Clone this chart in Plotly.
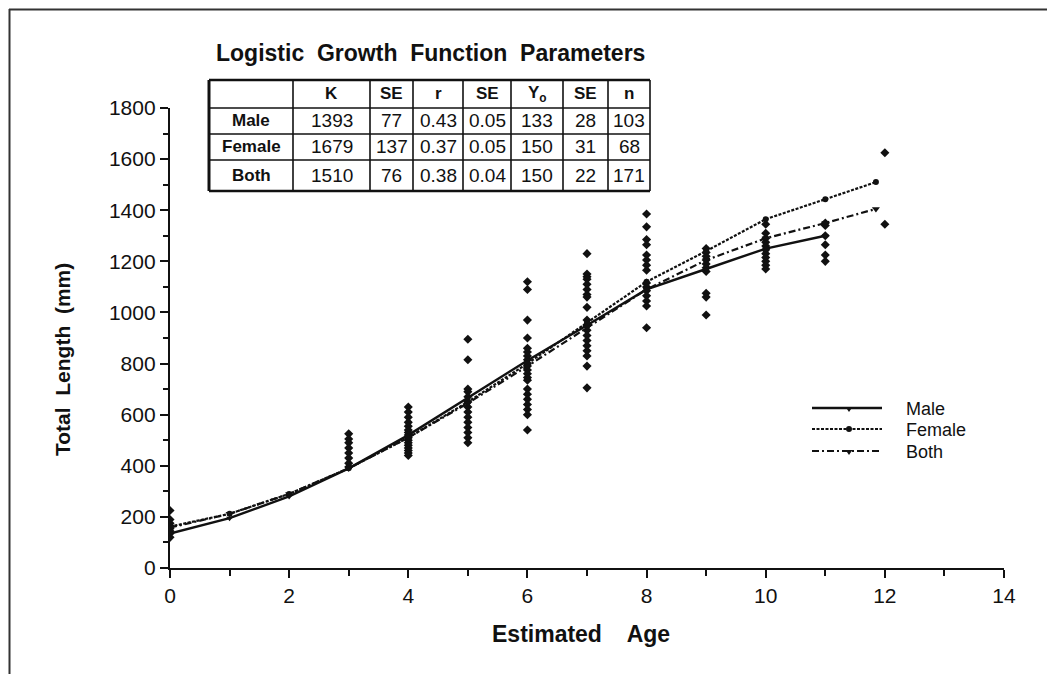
import plotly.graph_objects as go

# ---------------- data ----------------
male_age = [0, 1, 2, 3, 4, 5, 6, 7, 8, 9, 10, 11]
male_len = [135, 195, 280, 390, 520, 665, 812, 950, 1090, 1170, 1250, 1300]

female_age = [0, 1, 2, 3, 4, 5, 6, 7, 8, 9, 10, 11, 11.85]
female_len = [162, 212, 290, 390, 510, 650, 800, 960, 1120, 1240, 1365, 1443, 1510]

both_age = [0, 1, 2, 3, 4, 5, 6, 7, 8, 9, 10, 11, 11.85]
both_len = [158, 212, 290, 390, 510, 645, 790, 940, 1090, 1205, 1290, 1350, 1405]

obs = {
    0: [225, 190, 175, 165, 155, 145, 135, 120],
    3: [525, 505, 490, 470, 450, 430, 410, 395],
    4: [630, 610, 590, 570, 555, 540, 530, 520, 510, 500, 490, 480, 470, 460, 450, 440],
    5: [895, 815, 700, 690, 670, 650, 630, 610, 590, 570, 550, 530, 510, 490],
    6: [1120, 1090, 970, 900, 860, 845, 830, 815, 800, 790, 775, 760, 745, 735,
        700, 680, 660, 640, 620, 600, 540],
    7: [1230, 1150, 1140, 1130, 1110, 1090, 1070, 1060, 1020, 970, 950, 930, 910,
        890, 870, 850, 830, 790, 705],
    8: [1385, 1335, 1285, 1265, 1225, 1205, 1185, 1165, 1115, 1100, 1085, 1065,
        1045, 1025, 940],
    9: [1250, 1235, 1220, 1205, 1190, 1175, 1160, 1075, 1060, 990],
    10: [1345, 1310, 1290, 1275, 1260, 1245, 1230, 1215, 1200, 1185, 1170],
    11: [1350, 1340, 1300, 1265, 1225, 1200],
    12: [1625, 1345],
}

series_names = ["Male", "Female", "Both"]

table_title = "Logistic  Growth  Function  Parameters"
col_headers = ["", "K", "SE", "r", "SE", "Y<sub>o</sub>", "SE", "n"]
row_labels = ["Male", "Female", "Both"]
K = ["1393", "1679", "1510"]
SE_K = ["77", "137", "76"]
r = ["0.43", "0.37", "0.38"]
SE_r = ["0.05", "0.05", "0.04"]
Y0 = ["133", "150", "150"]
SE_Y0 = ["28", "31", "22"]
n = ["103", "68", "171"]

x_ticks = [0, 2, 4, 6, 8, 10, 12, 14]
y_ticks = [0, 200, 400, 600, 800, 1000, 1200, 1400, 1600, 1800]

# ---------------- layout geometry (reference pixel coords) ----------------
W, H = 1055, 674
OFF = 8  # page body margin
L, R, T, B = 170, 1004, 108, 568
FONT = "Liberation Sans, Arial, Helvetica, sans-serif"
INK = "#111"


def px(p):
    return (p - L) / (R - L)


def py(p):
    return (B - p) / (B - T)


styles = {
    "Male": dict(line=dict(color=INK, width=2.4, dash="solid"),
                 marker=dict(symbol="triangle-down", size=6, color=INK)),
    "Female": dict(line=dict(color=INK, width=2.2, dash="3px,1.5px"),
                   marker=dict(symbol="circle", size=6, color=INK)),
    "Both": dict(line=dict(color=INK, width=2.2, dash="7px,3px,2px,3px"),
                 marker=dict(symbol="triangle-down", size=7, color=INK)),
}

fig = go.Figure()

sx, sy = [], []
for a, vals in obs.items():
    for v in vals:
        sx.append(a)
        sy.append(v)
fig.add_trace(go.Scatter(x=sx, y=sy, mode="markers", showlegend=False,
                         marker=dict(symbol="diamond", size=7, color=INK)))

for name, ax, ay in zip(series_names, [male_age, female_age, both_age],
                        [male_len, female_len, both_len]):
    fig.add_trace(go.Scatter(x=ax, y=ay, name=name, mode="lines+markers",
                             showlegend=False, **styles[name]))

shapes = []
annotations = []

# outer frame (left and top)
shapes.append(dict(type="line", xref="paper", yref="paper", x0=px(9), x1=px(1070),
                   y0=py(9.5), y1=py(9.5), line=dict(color="#333", width=2)))
shapes.append(dict(type="line", xref="paper", yref="paper", x0=px(9.5), x1=px(9.5),
                   y0=py(9), y1=py(690), line=dict(color="#333", width=2)))

# table
col_x = [209, 293, 370, 413, 463, 511, 563, 608, 650]
row_y = [80, 108, 134, 160, 191]
for i, xv in enumerate(col_x):
    w = 3 if i == 0 else 1.6
    shapes.append(dict(type="line", xref="paper", yref="paper", x0=px(xv), x1=px(xv),
                       y0=py(row_y[0]), y1=py(row_y[-1]), line=dict(color=INK, width=w)))
for j, yv in enumerate(row_y):
    w = 2.4 if j in (0, len(row_y) - 1) else 1.6
    shapes.append(dict(type="line", xref="paper", yref="paper", x0=px(col_x[0]), x1=px(col_x[-1]),
                       y0=py(yv), y1=py(yv), line=dict(color=INK, width=w)))

annotations.append(dict(text="<b>" + table_title + "</b>", xref="paper", yref="paper",
                        x=px(430), y=py(53), showarrow=False, xanchor="center", yanchor="middle",
                        font=dict(family=FONT, size=23, color=INK)))

for c in range(1, len(col_headers)):
    annotations.append(dict(text="<b>" + col_headers[c] + "</b>", xref="paper", yref="paper",
                            x=px((col_x[c] + col_x[c + 1]) / 2), y=py((row_y[0] + row_y[1]) / 2),
                            showarrow=False, xanchor="center", yanchor="middle",
                            font=dict(family=FONT, size=17, color=INK)))

columns = [K, SE_K, r, SE_r, Y0, SE_Y0, n]
for ri, lab in enumerate(row_labels):
    ycen = py((row_y[ri + 1] + row_y[ri + 2]) / 2)
    annotations.append(dict(text="<b>" + lab + "</b>", xref="paper", yref="paper",
                            x=px((col_x[0] + col_x[1]) / 2), y=ycen, showarrow=False,
                            xanchor="center", yanchor="middle",
                            font=dict(family=FONT, size=17, color=INK)))
    for ci, colvals in enumerate(columns):
        annotations.append(dict(text=colvals[ri], xref="paper", yref="paper",
                                x=px((col_x[ci + 1] + col_x[ci + 2]) / 2), y=ycen,
                                showarrow=False, xanchor="center", yanchor="middle",
                                font=dict(family=FONT, size=19, color=INK)))

# axis titles
annotations.append(dict(text="<b>Total  Length  (mm)</b>", xref="paper", yref="paper",
                        x=px(62), y=py(360), showarrow=False, textangle=-90,
                        xanchor="center", yanchor="middle",
                        font=dict(family=FONT, size=21, color=INK)))
annotations.append(dict(text="<b>Estimated    Age</b>", xref="paper", yref="paper",
                        x=px(581), y=py(634), showarrow=False,
                        xanchor="center", yanchor="middle",
                        font=dict(family=FONT, size=23, color=INK)))

# legend (drawn as line samples + labels)
legend_rows = [408, 429, 451]
for name, ly in zip(series_names, legend_rows):
    st = styles[name]
    shapes.append(dict(type="line", xref="paper", yref="paper", x0=px(812), x1=px(882),
                       y0=py(ly), y1=py(ly), line=st["line"]))
    # small marker in the middle of the sample
    if st["marker"]["symbol"] == "circle":
        shapes.append(dict(type="circle", xref="paper", yref="paper",
                           xsizemode="pixel", ysizemode="pixel",
                           xanchor=px(849), yanchor=py(ly),
                           x0=-3, x1=3, y0=-3, y1=3,
                           fillcolor=INK, line=dict(color=INK, width=0)))
    else:
        shapes.append(dict(type="path", xref="paper", yref="paper",
                           xsizemode="pixel", ysizemode="pixel",
                           xanchor=px(849), yanchor=py(ly),
                           path="M -3.5 1 L 3.5 1 L 0 -4 Z",
                           fillcolor=INK, line=dict(color=INK, width=0)))
    annotations.append(dict(text=name, xref="paper", yref="paper",
                            x=px(904), y=py(ly + 1), showarrow=False,
                            xanchor="left", yanchor="middle",
                            font=dict(family=FONT, size=18, color=INK)))

fig.update_layout(
    width=W, height=H,
    margin=dict(l=L - OFF, r=W - (R - OFF), t=T - OFF, b=H - (B - OFF), autoexpand=False),
    paper_bgcolor="white", plot_bgcolor="white",
    font=dict(family=FONT, color=INK),
    shapes=shapes, annotations=annotations,
    showlegend=False,
    xaxis=dict(range=[0, 14], tickvals=x_ticks, showgrid=False, zeroline=False,
               showline=True, linecolor=INK, linewidth=2.4,
               ticks="outside", ticklen=8, tickwidth=2, tickcolor=INK,
               tickfont=dict(family=FONT, size=21, color=INK),
               minor=dict(dtick=1, ticks="outside", ticklen=6, tickwidth=2, tickcolor=INK)),
    yaxis=dict(range=[0, 1800], tickvals=y_ticks, showgrid=False, zeroline=False,
               showline=True, linecolor=INK, linewidth=2.4,
               ticks="outside", ticklen=8, tickwidth=2, tickcolor=INK,
               tickfont=dict(family=FONT, size=21, color=INK),
               minor=dict(dtick=100, ticks="outside", ticklen=5, tickwidth=2, tickcolor=INK)),
)

fig.write_html("out.html")
